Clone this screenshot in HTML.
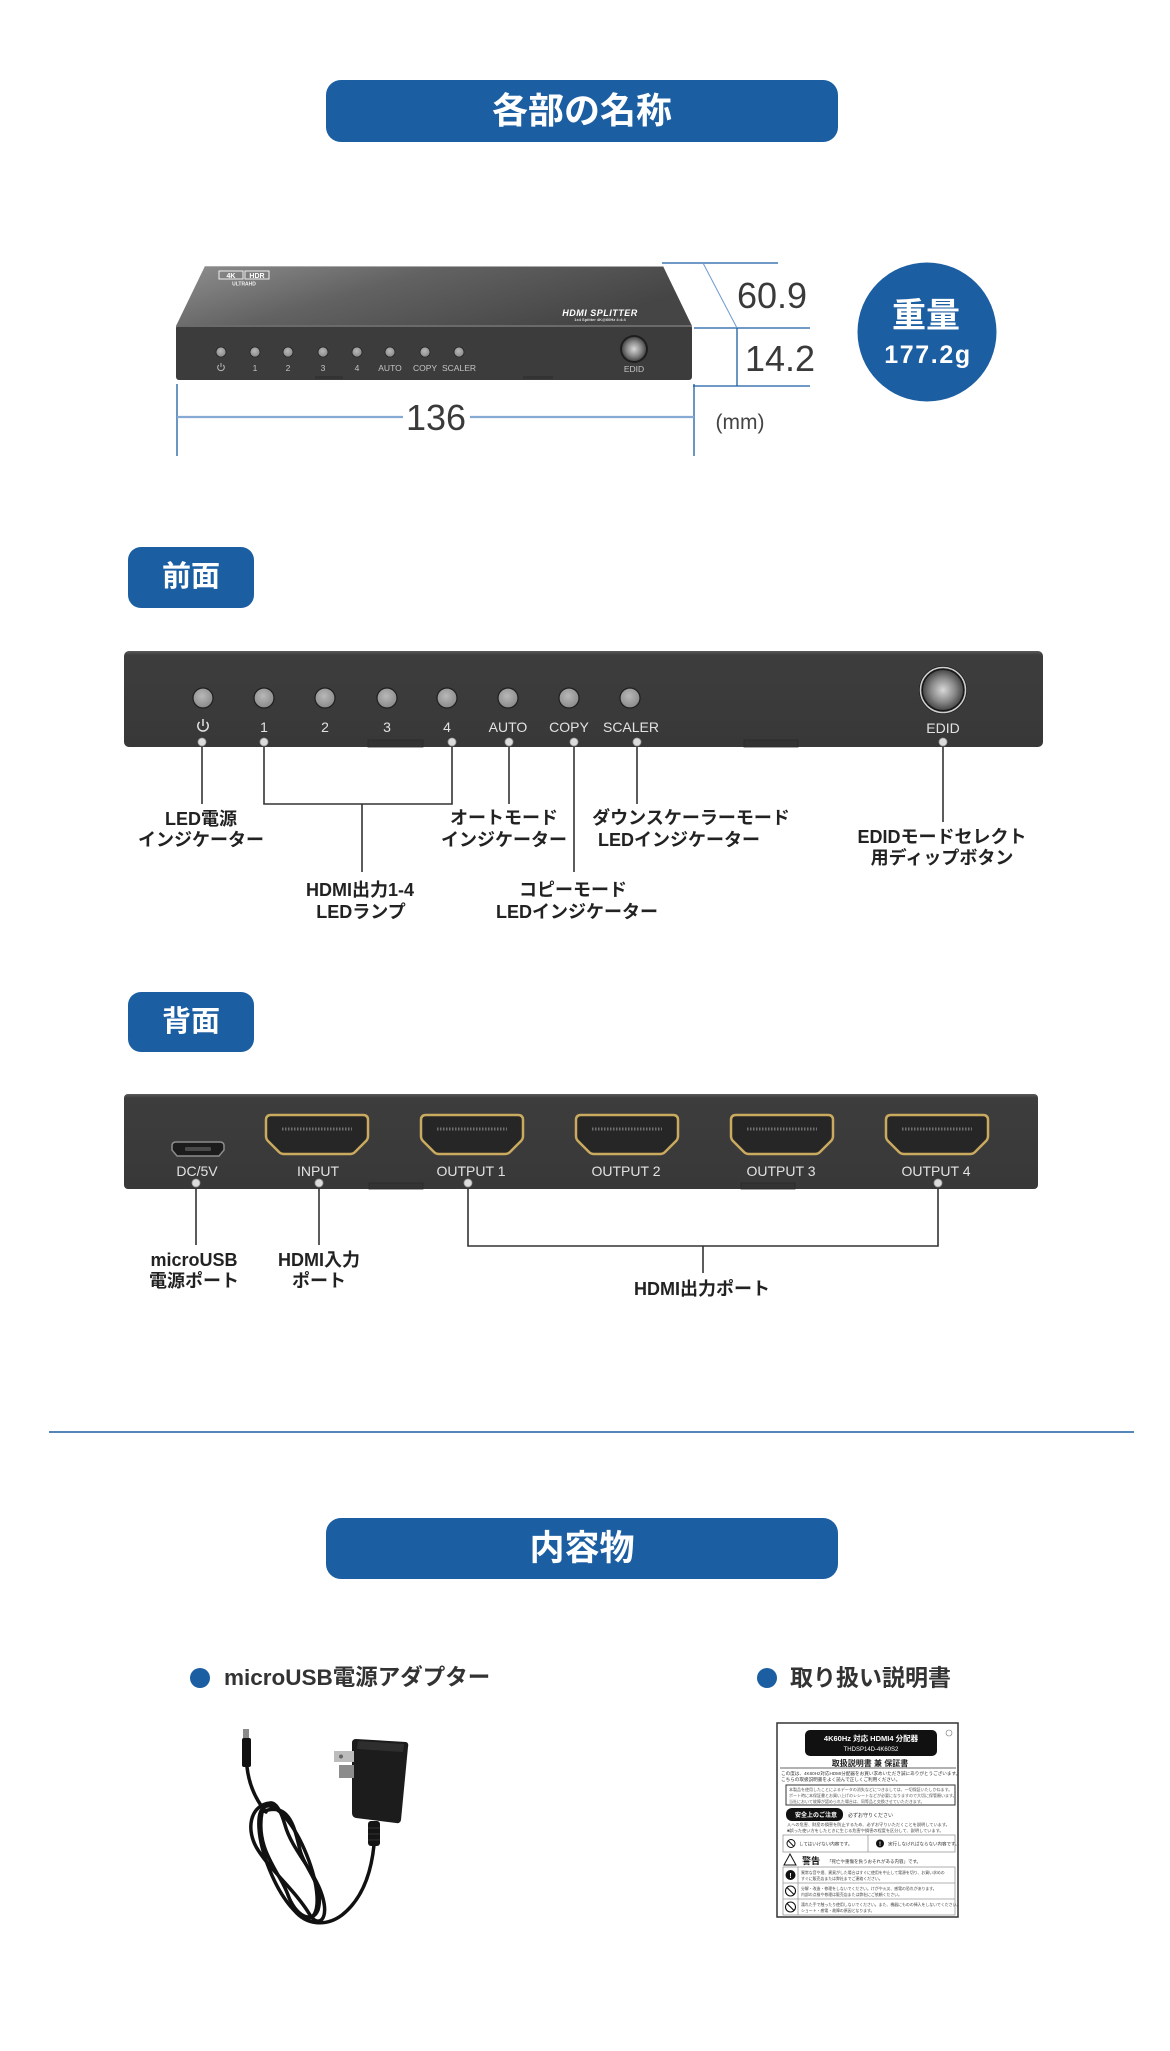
<!DOCTYPE html>
<html><head><meta charset="utf-8">
<style>
*{margin:0;padding:0;box-sizing:border-box}
html,body{width:1170px;height:2051px;background:#fff;overflow:hidden}
body{position:relative;font-family:"Liberation Sans","Noto Sans CJK JP",sans-serif}
svg{position:absolute;left:0;top:0}
svg text{font-family:"Liberation Sans","Noto Sans CJK JP",sans-serif}
.c{position:absolute;transform:translate(-50%,-50%);white-space:nowrap;line-height:1}
.box{position:absolute;background:#1b5ea2;border-radius:15px;color:#fff;font-weight:bold;display:flex;align-items:center;justify-content:center;line-height:1}
.lb{font-weight:bold;font-size:18px;color:#222}
.bul{position:absolute;white-space:nowrap;font-weight:bold;color:#333;line-height:1;transform:translateY(-50%)}
.dot{position:absolute;width:20px;height:20px;border-radius:50%;background:#1b5ea2;transform:translate(-50%,-50%)}
</style></head><body>

<svg width="1170" height="2051" viewBox="0 0 1170 2051" xmlns="http://www.w3.org/2000/svg">
<defs>
<linearGradient id="topG" x1="0" y1="0" x2="1" y2="0.4">
<stop offset="0" stop-color="#8f8f8f"/><stop offset="0.45" stop-color="#626262"/><stop offset="1" stop-color="#454545"/>
</linearGradient>
<radialGradient id="led" cx="0.45" cy="0.4" r="0.6">
<stop offset="0" stop-color="#b8b8b8"/><stop offset="1" stop-color="#8a8a8a"/>
</radialGradient>
<radialGradient id="knob" cx="0.5" cy="0.5" r="0.5">
<stop offset="0" stop-color="#d8d8d8"/><stop offset="0.6" stop-color="#8a8a8a"/><stop offset="1" stop-color="#4a4a4a"/>
</radialGradient>
<linearGradient id="panelG" x1="0" y1="0" x2="0" y2="1">
<stop offset="0" stop-color="#5a5a5a"/><stop offset="0.04" stop-color="#3d3d3d"/><stop offset="1" stop-color="#383838"/>
</linearGradient>
</defs>

<!-- ===== Section 1 device ===== -->
<polygon points="205,266 663,266 692,326 176,326" fill="url(#topG)"/>
<line x1="205" y1="266.5" x2="663" y2="266.5" stroke="#aaa" stroke-width="1"/>
<rect x="176" y="325" width="516" height="55" rx="3" fill="#3c3c3c"/>
<line x1="176" y1="326" x2="692" y2="326" stroke="#7a7a7a" stroke-width="1.5"/>
<rect x="315" y="376" width="28" height="3" fill="#333"/>
<rect x="523" y="376" width="30" height="3" fill="#333"/>
<g fill="url(#led)" stroke="#262626" stroke-width="0.8">
<circle cx="221" cy="352" r="5"/><circle cx="255" cy="352" r="5"/><circle cx="288" cy="352" r="5"/><circle cx="323" cy="352" r="5"/>
<circle cx="357" cy="352" r="5"/><circle cx="390" cy="352" r="5"/><circle cx="425" cy="352" r="5"/><circle cx="459" cy="352" r="5"/>
</g>
<g fill="#c4c4c4" font-size="8.5" text-anchor="middle">
<text x="255" y="371">1</text><text x="288" y="371">2</text><text x="323" y="371">3</text><text x="357" y="371">4</text>
<text x="390" y="371">AUTO</text><text x="425" y="371">COPY</text><text x="459" y="371">SCALER</text>
<text x="634" y="372">EDID</text>
</g>
<g stroke="#c4c4c4" stroke-width="0.9" fill="none">
<path d="M218.7,365 A3.3,3.3 0 1 0 223.3,365"/><line x1="221" y1="363" x2="221" y2="367"/>
</g>
<circle cx="634" cy="349" r="14" fill="#1e1e1e"/>
<circle cx="634" cy="349" r="12" fill="url(#knob)"/>
<!-- logo -->
<rect x="219" y="271" width="24" height="8" fill="none" stroke="#eee" stroke-width="1"/>
<rect x="245" y="271" width="24" height="8" fill="none" stroke="#eee" stroke-width="1"/>
<text x="231" y="278" font-size="7" font-weight="bold" fill="#fff" text-anchor="middle">4K</text>
<text x="257" y="278" font-size="7" font-weight="bold" fill="#fff" text-anchor="middle">HDR</text>
<text x="244" y="285.5" font-size="5" font-weight="bold" fill="#eee" text-anchor="middle">ULTRAHD</text>
<text x="600" y="316" font-size="9" font-weight="bold" font-style="italic" fill="#fff" text-anchor="middle" letter-spacing="0.5">HDMI SPLITTER</text>
<text x="600" y="321" font-size="4" font-weight="bold" fill="#ddd" text-anchor="middle">1x4 Splitter 4K@60Hz 4:4:4</text>

<!-- dimension lines -->
<g stroke="#1b5ea2" stroke-width="1.3" fill="none">
<line x1="662" y1="263" x2="778" y2="263"/>
<line x1="694" y1="328" x2="810" y2="328"/>
<line x1="737" y1="328" x2="737" y2="386"/>
<line x1="693" y1="386" x2="810" y2="386"/>
<line x1="177" y1="384" x2="177" y2="456"/>
<line x1="694" y1="384" x2="694" y2="456"/>
</g>
<line x1="703" y1="263" x2="737" y2="328" stroke="#6e9ad0" stroke-width="1"/>
<g stroke="#86aad4" stroke-width="2.2">
<line x1="177" y1="417" x2="403" y2="417"/>
<line x1="470" y1="417" x2="694" y2="417"/>
</g>
<g fill="#3a3a3a" font-size="36">
<text x="737" y="308">60.9</text>
<text x="745" y="371">14.2</text>
<text x="436" y="430" text-anchor="middle">136</text>
</g>
<text x="740" y="429" font-size="21" fill="#444" text-anchor="middle">(mm)</text>
<!-- weight circle -->
<circle cx="927" cy="332" r="69.5" fill="#1b5ea2"/>
<text x="926" y="327" font-size="34" font-weight="bold" fill="#fff" text-anchor="middle">重量</text>
<text x="928" y="363" font-size="25" font-weight="bold" fill="#fff" text-anchor="middle" letter-spacing="1.6">177.2g</text>

<!-- ===== Front panel ===== -->
<rect x="124" y="651" width="919" height="96" rx="5" fill="url(#panelG)"/>
<rect x="368" y="740" width="55" height="7" fill="#333" stroke="#2a2a2a" stroke-width="0.8"/>
<rect x="744" y="740" width="54" height="7" fill="#333" stroke="#2a2a2a" stroke-width="0.8"/>
<g fill="url(#led)" stroke="#1e1e1e" stroke-width="1.2">
<circle cx="203" cy="698" r="10"/><circle cx="264" cy="698" r="10"/><circle cx="325" cy="698" r="10"/><circle cx="387" cy="698" r="10"/>
<circle cx="447" cy="698" r="10"/><circle cx="508" cy="698" r="10"/><circle cx="569" cy="698" r="10"/><circle cx="630" cy="698" r="10"/>
</g>
<g fill="#e2e2e2" font-size="14" text-anchor="middle">
<text x="264" y="732">1</text><text x="325" y="732">2</text><text x="387" y="732">3</text><text x="447" y="732">4</text>
<text x="508" y="732">AUTO</text><text x="569" y="732">COPY</text><text x="631" y="732">SCALER</text>
<text x="943" y="733">EDID</text>
</g>
<g stroke="#e2e2e2" stroke-width="1.5" fill="none">
<path d="M199.5,722 A5.2,5.2 0 1 0 206.5,722"/><line x1="203" y1="719" x2="203" y2="726"/>
</g>
<circle cx="943" cy="690" r="24" fill="#1a1a1a"/>
<circle cx="943" cy="690" r="22.5" fill="none" stroke="#cfcfcf" stroke-width="1.5"/>
<circle cx="943" cy="690" r="20" fill="url(#knob)"/>
<!-- connectors front -->
<g stroke="#333" stroke-width="1.6" fill="none">
<line x1="202" y1="742" x2="202" y2="804"/>
<polyline points="264,742 264,804 452,804 452,742"/>
<line x1="362" y1="804" x2="362" y2="872"/>
<line x1="509" y1="742" x2="509" y2="804"/>
<line x1="574" y1="742" x2="574" y2="872"/>
<line x1="637" y1="742" x2="637" y2="804"/>
<line x1="943" y1="742" x2="943" y2="822"/>
</g>
<g fill="#dcdcdc" stroke="#9a9a9a" stroke-width="0.8">
<circle cx="202" cy="742" r="4"/><circle cx="264" cy="742" r="4"/><circle cx="452" cy="742" r="4"/>
<circle cx="509" cy="742" r="4"/><circle cx="574" cy="742" r="4"/><circle cx="637" cy="742" r="4"/><circle cx="943" cy="742" r="4"/>
</g>

<!-- ===== Back panel ===== -->
<rect x="124" y="1094" width="914" height="95" rx="4" fill="url(#panelG)"/>
<rect x="369" y="1183" width="54" height="6" fill="#333" stroke="#2a2a2a" stroke-width="0.8"/>
<rect x="741" y="1183" width="54" height="6" fill="#333" stroke="#2a2a2a" stroke-width="0.8"/>
<path d="M176,1142 H220 Q224,1142 224,1146 V1150 L219,1156 H177 L172,1150 V1146 Q172,1142 176,1142 Z" fill="#1c1c1c" stroke="#8c8c8c" stroke-width="1.5"/>
<rect x="185" y="1147" width="26" height="4" rx="1" fill="#4a4a4a"/>
<g fill="#262626" stroke="#c9aa5e" stroke-width="2.5">
<path transform="translate(266,1115)" d="M5,0 H97 Q102,0 102,5 V21 Q102,24 100,26 L89,37 Q87,39 84,39 H18 Q15,39 13,37 L2,26 Q0,24 0,21 V5 Q0,0 5,0 Z"/>
<path transform="translate(421,1115)" d="M5,0 H97 Q102,0 102,5 V21 Q102,24 100,26 L89,37 Q87,39 84,39 H18 Q15,39 13,37 L2,26 Q0,24 0,21 V5 Q0,0 5,0 Z"/>
<path transform="translate(576,1115)" d="M5,0 H97 Q102,0 102,5 V21 Q102,24 100,26 L89,37 Q87,39 84,39 H18 Q15,39 13,37 L2,26 Q0,24 0,21 V5 Q0,0 5,0 Z"/>
<path transform="translate(731,1115)" d="M5,0 H97 Q102,0 102,5 V21 Q102,24 100,26 L89,37 Q87,39 84,39 H18 Q15,39 13,37 L2,26 Q0,24 0,21 V5 Q0,0 5,0 Z"/>
<path transform="translate(886,1115)" d="M5,0 H97 Q102,0 102,5 V21 Q102,24 100,26 L89,37 Q87,39 84,39 H18 Q15,39 13,37 L2,26 Q0,24 0,21 V5 Q0,0 5,0 Z"/>
</g>
<g stroke="#707070" stroke-width="3" stroke-dasharray="1.5,1.5">
<line x1="282" y1="1129" x2="352" y2="1129"/><line x1="437" y1="1129" x2="507" y2="1129"/>
<line x1="592" y1="1129" x2="662" y2="1129"/><line x1="747" y1="1129" x2="817" y2="1129"/>
<line x1="902" y1="1129" x2="972" y2="1129"/>
</g>
<g fill="#e2e2e2" font-size="14" text-anchor="middle">
<text x="197" y="1176">DC/5V</text><text x="318" y="1176">INPUT</text>
<text x="471" y="1176">OUTPUT 1</text><text x="626" y="1176">OUTPUT 2</text>
<text x="781" y="1176">OUTPUT 3</text><text x="936" y="1176">OUTPUT 4</text>
</g>
<g stroke="#333" stroke-width="1.6" fill="none">
<line x1="196" y1="1183" x2="196" y2="1245"/>
<line x1="319" y1="1183" x2="319" y2="1245"/>
<polyline points="468,1183 468,1246 938,1246 938,1183"/>
<line x1="703" y1="1246" x2="703" y2="1273"/>
</g>
<g fill="#dcdcdc" stroke="#9a9a9a" stroke-width="0.8">
<circle cx="196" cy="1183" r="4"/><circle cx="319" cy="1183" r="4"/><circle cx="468" cy="1183" r="4"/><circle cx="938" cy="1183" r="4"/>
</g>

<!-- separator -->
<line x1="49" y1="1432" x2="1134" y2="1432" stroke="#1b5ea2" stroke-width="1.5"/>

<!-- ===== Adapter ===== -->
<rect x="243" y="1729" width="6" height="10" fill="#8a8a8a"/>
<rect x="242" y="1738" width="9" height="29" rx="2" fill="#111"/>
<g stroke="#111" stroke-width="3.5" fill="none" stroke-linecap="round">
<path d="M247,1767 C249,1785 256,1800 266,1812"/>
<path d="M270,1803 C250,1805 245,1830 258,1850 C272,1872 295,1890 310,1915 C318,1928 330,1920 322,1895 C314,1870 292,1850 285,1825 C280,1808 275,1802 270,1803 Z"/>
<path d="M262,1812 C290,1800 295,1830 300,1850 C305,1870 325,1885 318,1910 C312,1925 295,1915 288,1895 C280,1872 255,1850 262,1812"/>
<ellipse cx="288" cy="1862" rx="20" ry="60" transform="rotate(-22 288 1862)"/>
<path d="M374,1845 C371,1875 361,1900 342,1915 C326,1927 306,1925 294,1910"/>
</g>
<path d="M356,1739 L406,1742 Q409,1743 408,1747 L401,1820 Q400,1824 396,1823 L356,1818 Q352,1817 352,1813 L352,1743 Q352,1739 356,1739 Z" fill="#1c1c1c"/>
<path d="M358,1741 L404,1744 L403,1752 L357,1749 Z" fill="#2e2e2e"/>
<rect x="334" y="1751" width="20" height="11" fill="#bcbcbc"/>
<circle cx="341" cy="1756.5" r="2" fill="#666"/>
<rect x="339" y="1765" width="15" height="13" fill="#8c8c8c"/>
<rect x="368" y="1821" width="12" height="25" rx="3" fill="#151515"/>
<g stroke="#333" stroke-width="1"><line x1="368" y1="1828" x2="380" y2="1828"/><line x1="368" y1="1834" x2="380" y2="1834"/><line x1="368" y1="1840" x2="380" y2="1840"/></g>

<!-- ===== Manual ===== -->
<rect x="777" y="1723" width="181" height="194" fill="#fff" stroke="#333" stroke-width="1.5"/>
<rect x="805" y="1730" width="132" height="26" rx="5" fill="#111"/>
<text x="871" y="1741" font-size="7.5" font-weight="bold" fill="#fff" text-anchor="middle">4K60Hz 対応 HDMI4 分配器</text>
<text x="871" y="1751" font-size="6" fill="#fff" text-anchor="middle">THDSP14D-4K60S2</text>
<circle cx="949" cy="1733" r="3" fill="none" stroke="#777" stroke-width="0.6"/>
<text x="870" y="1766" font-size="8" font-weight="bold" fill="#222" text-anchor="middle">取扱説明書 兼 保証書</text>
<line x1="780" y1="1768" x2="956" y2="1768" stroke="#333" stroke-width="0.8"/>
<g fill="#333" font-size="4.6">
<text x="781" y="1775">この度は、4K60Hz対応HDMI分配器をお買い求めいただき誠にありがとうございます。</text>
<text x="781" y="1781">こちらの取扱説明書をよく読んで正しくご利用ください。</text>
</g>
<rect x="786" y="1785" width="169" height="20" fill="none" stroke="#333" stroke-width="1"/>
<g fill="#555" font-size="4">
<text x="789" y="1791">本製品を使用したことによるデータの消失などにつきましては、一切保証いたしかねます。</text>
<text x="789" y="1797">ポート時に本保証書とお買い上げのレシートなどが必要になりますので大切に保管願います。</text>
<text x="789" y="1803">当社において故障が認められた場合は、同等品と交換させていただきます。</text>
</g>
<rect x="786" y="1808" width="57" height="13" rx="6" fill="#111"/>
<text x="816" y="1817" font-size="6" font-weight="bold" fill="#fff" text-anchor="middle">安全上のご注意</text>
<text x="848" y="1817" font-size="5" fill="#333">必ずお守りください</text>
<g fill="#444" font-size="4.2">
<text x="787" y="1826">人への危害、財産の損害を防止するため、必ずお守りいただくことを説明しています。</text>
<text x="787" y="1832">■誤った使い方をしたときに生じる危害や損害の程度を区分して、説明しています。</text>
</g>
<rect x="783" y="1835" width="172" height="17" fill="none" stroke="#999" stroke-width="0.8"/>
<line x1="868" y1="1835" x2="868" y2="1852" stroke="#999" stroke-width="0.8"/>
<circle cx="791" cy="1843.5" r="4" fill="none" stroke="#111" stroke-width="1"/>
<line x1="788" y1="1840.5" x2="794" y2="1846.5" stroke="#111" stroke-width="1"/>
<text x="799" y="1845.5" font-size="4.5" fill="#333">してはいけない内容です。</text>
<circle cx="880" cy="1843.5" r="4" fill="#111"/>
<text x="880" y="1846" font-size="6" font-weight="bold" fill="#fff" text-anchor="middle">!</text>
<text x="888" y="1845.5" font-size="4.5" fill="#333">実行しなければならない内容です。</text>
<polygon points="784,1865 790,1854 796,1865" fill="none" stroke="#111" stroke-width="1"/>
<text x="802" y="1864" font-size="9" font-weight="bold" fill="#111">警告</text>
<text x="827" y="1863" font-size="4.5" fill="#333">「死亡や重傷を負うおそれがある内容」です。</text>
<rect x="783" y="1867" width="172" height="48" fill="none" stroke="#999" stroke-width="0.8"/>
<g stroke="#999" stroke-width="0.8"><line x1="783" y1="1883" x2="955" y2="1883"/><line x1="783" y1="1899" x2="955" y2="1899"/><line x1="798" y1="1867" x2="798" y2="1915"/></g>
<circle cx="790.5" cy="1875" r="5" fill="#111"/>
<text x="790.5" y="1878" font-size="7" font-weight="bold" fill="#fff" text-anchor="middle">!</text>
<circle cx="790.5" cy="1891" r="5" fill="none" stroke="#111" stroke-width="1.1"/>
<line x1="787" y1="1887.5" x2="794" y2="1894.5" stroke="#111" stroke-width="1.1"/>
<circle cx="790.5" cy="1907" r="5" fill="none" stroke="#111" stroke-width="1.1"/>
<line x1="787" y1="1903.5" x2="794" y2="1910.5" stroke="#111" stroke-width="1.1"/>
<g fill="#444" font-size="3.9">
<text x="801" y="1874">異常な音や煙、異臭がした場合はすぐに使用を中止して電源を切り、お買い求めの</text>
<text x="801" y="1880">すぐに販売店または弊社までご連絡ください。</text>
<text x="801" y="1890">分解・改造・修理をしないでください。けがや火災、感電の恐れがあります。</text>
<text x="801" y="1896">内部の点検や修理は販売店または弊社にご依頼ください。</text>
<text x="801" y="1906">濡れた手で触ったり使用しないでください。また、機器にものの挿入をしないでください。</text>
<text x="801" y="1912">ショート・感電・故障の原因となります。</text>
</g>
</svg>

<!-- titles -->
<div class="box" style="left:326px;top:80px;width:512px;height:62px;font-size:36px;">各部の名称</div>
<div class="box" style="left:128px;top:547px;width:126px;height:61px;font-size:29px;border-radius:13px;">前面</div>
<div class="box" style="left:128px;top:992px;width:126px;height:60px;font-size:29px;border-radius:13px;">背面</div>
<div class="box" style="left:326px;top:1518px;width:512px;height:61px;font-size:35px;">内容物</div>

<!-- front labels -->
<div class="c lb" style="left:201px;top:819px">LED電源</div>
<div class="c lb" style="left:201px;top:840px">インジケーター</div>
<div class="c lb" style="left:360px;top:890px">HDMI出力1-4</div>
<div class="c lb" style="left:361px;top:912px">LEDランプ</div>
<div class="c lb" style="left:504px;top:818px">オートモード</div>
<div class="c lb" style="left:504px;top:840px">インジケーター</div>
<div class="c lb" style="left:691px;top:818px">ダウンスケーラーモード</div>
<div class="c lb" style="left:679px;top:840px">LEDインジケーター</div>
<div class="c lb" style="left:573px;top:890px">コピーモード</div>
<div class="c lb" style="left:577px;top:912px">LEDインジケーター</div>
<div class="c lb" style="left:942px;top:837px">EDIDモードセレクト</div>
<div class="c lb" style="left:942px;top:858px">用ディップボタン</div>

<!-- back labels -->
<div class="c lb" style="left:194px;top:1260px">microUSB</div>
<div class="c lb" style="left:194px;top:1281px">電源ポート</div>
<div class="c lb" style="left:319px;top:1260px">HDMI入力</div>
<div class="c lb" style="left:319px;top:1281px">ポート</div>
<div class="c lb" style="left:702px;top:1289px">HDMI出力ポート</div>

<!-- contents bullets -->
<div class="dot" style="left:200px;top:1678px"></div>
<div class="bul" style="left:224px;top:1678px;font-size:22.5px;">microUSB電源アダプター</div>
<div class="dot" style="left:767px;top:1678px"></div>
<div class="bul" style="left:790px;top:1678px;font-size:23px;">取り扱い説明書</div>

</body></html>
